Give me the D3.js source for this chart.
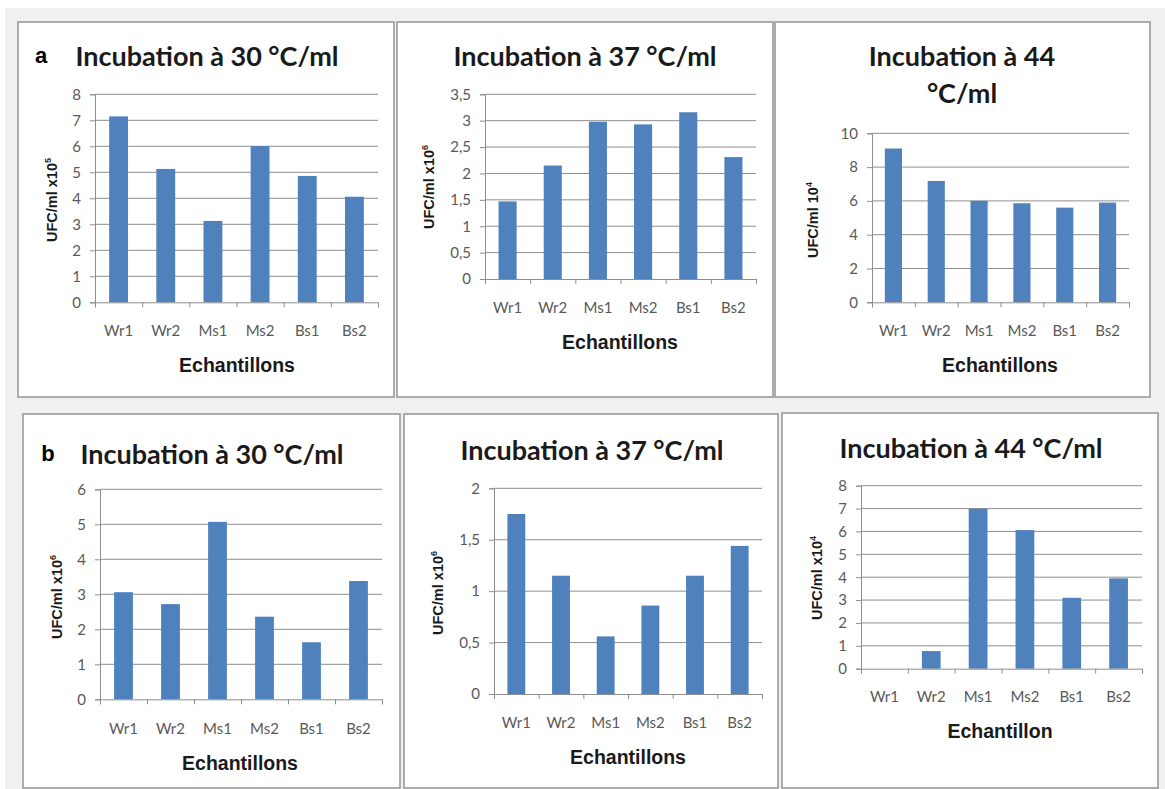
<!DOCTYPE html>
<html>
<head>
<meta charset="utf-8">
<script src="https://cdn.jsdelivr.net/npm/d3@7"></script>
<style>
  body { margin: 0; background: #fff; }
  svg { display: block; }
</style>
</head>
<body>
<div id="chart"></div>
<script>
// data
var categories = ["Wr1", "Wr2", "Ms1", "Ms2", "Bs1", "Bs2"];

var valuesA30 = [7.15, 5.13, 3.13, 6.01, 4.86, 4.06];
var valuesA37 = [1.47, 2.15, 2.98, 2.93, 3.16, 2.31];
var valuesA44 = [9.1, 7.18, 6.0, 5.86, 5.6, 5.9];
var valuesB30 = [3.06, 2.72, 5.07, 2.36, 1.63, 3.38];
var valuesB37 = [1.75, 1.15, 0.56, 0.86, 1.15, 1.44];
var valuesB44 = [0, 0.77, 6.99, 6.06, 3.1, 3.95];

var ticksA30 = [0, 1, 2, 3, 4, 5, 6, 7, 8];
var ticksA37 = [0, 0.5, 1, 1.5, 2, 2.5, 3, 3.5];
var ticksA44 = [0, 2, 4, 6, 8, 10];
var ticksB30 = [0, 1, 2, 3, 4, 5, 6];
var ticksB37 = [0, 0.5, 1, 1.5, 2];
var ticksB44 = [0, 1, 2, 3, 4, 5, 6, 7, 8];

var titles = [
    ["Incubation à 30 °C/ml"],
    ["Incubation à 37 °C/ml"],
    ["Incubation à 44", "°C/ml"],
    ["Incubation à 30 °C/ml"],
    ["Incubation à 37 °C/ml"],
    ["Incubation à 44 °C/ml"]
];
// y label: [main text, superscript]
var yLabels = [
    ["UFC/ml x10", "5"],
    ["UFC/ml x10", "6"],
    ["UFC/ml 10", "4"],
    ["UFC/ml x10", "6"],
    ["UFC/ml x10", "6"],
    ["UFC/ml x10", "4"]
];
var xTitles = ["Echantillons", "Echantillons", "Echantillons", "Echantillons", "Echantillons", "Echantillon"];
var panelLetters = ["a", "", "", "b", "", ""];

var svgWidth = 1165;
var svgHeight = 789;

// layout of each panel (box + plot area + text positions)
var panels = [
    {values: valuesA30, ticks: ticksA30, box: [18, 22, 394, 397], plot: [95, 378, 94.3, 302.3],
     titleX: 207, titleY: 55, letterX: 41, yLabX: 52, yLabY: 200, xLabY: 330, xTitleX: 237, xTitleY: 365},
    {values: valuesA37, ticks: ticksA37, box: [397, 22, 773, 397], plot: [485, 756, 94.3, 279],
     titleX: 585, titleY: 55, yLabX: 429, yLabY: 187, xLabY: 307, xTitleX: 620, xTitleY: 342},
    {values: valuesA44, ticks: ticksA44, box: [775, 22, 1150, 397], plot: [872, 1129, 133.3, 302.3],
     titleX: 962, titleY: 55, yLabX: 813, yLabY: 220, xLabY: 330, xTitleX: 1000, xTitleY: 365},
    {values: valuesB30, ticks: ticksB30, box: [23, 414, 400, 788], plot: [100, 382, 489.3, 699.3],
     titleX: 212, titleY: 453, letterX: 48, yLabX: 57, yLabY: 597, xLabY: 728, xTitleX: 240, xTitleY: 763},
    {values: valuesB37, ticks: ticksB37, box: [404, 414, 778, 788], plot: [494, 762, 488.3, 694],
     titleX: 592, titleY: 449, yLabX: 438, yLabY: 593, xLabY: 722, xTitleX: 628, xTitleY: 757},
    {values: valuesB44, ticks: ticksB44, box: [782, 413, 1158, 788], plot: [861, 1142, 485.7, 668.7],
     titleX: 971, titleY: 447, yLabX: 817, yLabY: 578, xLabY: 696, xTitleX: 1000, xTitleY: 731}
];

var barColor = "#4f81bd";
var gridColor = "#8e8e8e";
var tickTextColor = "#595959";

var svg = d3.select("#chart")
    .append("svg")
    .attr("width", svgWidth)
    .attr("height", svgHeight);

svg.append("rect")
    .attr("x", 5).attr("y", 8)
    .attr("width", svgWidth - 5).attr("height", svgHeight - 8)
    .attr("fill", "#f0f0f0");

var fmt = function(d) { return String(d).replace(".", ","); };

panels.forEach(function(p, i) {
    var g = svg.append("g");
    var b = p.box;

    g.append("rect")
        .attr("x", b[0]).attr("y", b[1])
        .attr("width", b[2] - b[0]).attr("height", b[3] - b[1])
        .attr("fill", "#fff")
        .attr("stroke", "#9a9a9a")
        .attr("stroke-width", 1.6);

    var x0 = p.plot[0], x1 = p.plot[1], yTop = p.plot[2], yBot = p.plot[3];

    var xBand = d3.scaleBand()
        .domain(categories)
        .range([x0, x1])
        .paddingInner(0.6)
        .paddingOuter(0.3);

    var xEdges = d3.scaleLinear().domain([0, categories.length]).range([x0, x1]);

    var y = d3.scaleLinear()
        .domain([0, d3.max(p.ticks)])
        .range([yBot, yTop]);

    // gridlines
    g.selectAll(".grid")
        .data(p.ticks.slice(1))
        .enter()
        .append("line")
        .attr("x1", x0).attr("x2", x1)
        .attr("y1", d => y(d)).attr("y2", d => y(d))
        .attr("stroke", gridColor)
        .attr("stroke-width", 1);

    // bars
    g.selectAll(".bar")
        .data(p.values)
        .enter()
        .append("rect")
        .attr("x", (d, j) => xBand(categories[j]))
        .attr("width", xBand.bandwidth())
        .attr("y", d => y(d))
        .attr("height", d => yBot - y(d))
        .attr("fill", barColor);

    // y axis
    var yAxis = g.append("g")
        .attr("transform", `translate(${x0},0)`)
        .call(d3.axisLeft(y).tickValues(p.ticks).tickSize(5).tickPadding(9).tickFormat(fmt));
    yAxis.select(".domain").attr("stroke", gridColor);
    yAxis.selectAll(".tick line").attr("stroke", gridColor);
    yAxis.selectAll(".tick text")
        .attr("fill", tickTextColor)
        .style("font-family", "Lato, 'Open Sans', sans-serif")
        .style("font-size", "15px");

    // x axis: category edge ticks
    var xAxis = g.append("g")
        .attr("transform", `translate(0,${yBot})`)
        .call(d3.axisBottom(xEdges).tickValues(d3.range(categories.length + 1)).tickSize(5).tickFormat(""));
    xAxis.select(".domain").attr("stroke", gridColor);
    xAxis.selectAll(".tick line").attr("stroke", gridColor);

    // x category labels
    g.selectAll(".xlab")
        .data(categories)
        .enter()
        .append("text")
        .attr("x", d => xBand(d) + xBand.bandwidth() / 2)
        .attr("y", p.xLabY)
        .attr("text-anchor", "middle")
        .attr("dominant-baseline", "central")
        .attr("fill", tickTextColor)
        .style("font-family", "Lato, 'Open Sans', sans-serif")
        .style("font-size", "15px")
        .text(d => d);

    // chart title
    var lines = titles[i];
    lines.forEach(function(t, k) {
        g.append("text")
            .attr("x", p.titleX)
            .attr("y", p.titleY + k * 37)
            .attr("text-anchor", "middle")
            .attr("dominant-baseline", "central")
            .attr("fill", "#1a1a1a")
            .style("font-family", "Lato, 'Open Sans', sans-serif")
            .style("font-weight", "700")
            .style("font-size", "27px")
            .text(t);
    });

    if (panelLetters[i]) {
        g.append("text")
            .attr("x", p.letterX)
            .attr("y", p.titleY)
            .attr("text-anchor", "middle")
            .attr("dominant-baseline", "central")
            .attr("fill", "#000")
            .style("font-family", "'Liberation Sans', Arial, sans-serif")
            .style("font-weight", "700")
            .style("font-size", "22px")
            .text(panelLetters[i]);
    }

    // y axis title
    var yl = g.append("text")
        .attr("transform", `translate(${p.yLabX},${p.yLabY}) rotate(-90)`)
        .attr("text-anchor", "middle")
        .attr("dominant-baseline", "central")
        .attr("fill", "#1a1a1a")
        .style("font-family", "'Liberation Sans', Arial, sans-serif")
        .style("font-weight", "700")
        .style("font-size", "14.5px");
    yl.append("tspan").text(yLabels[i][0]);
    yl.append("tspan")
        .attr("dy", "-0.45em")
        .style("font-size", "9px")
        .text(yLabels[i][1]);

    // x axis title
    g.append("text")
        .attr("x", p.xTitleX)
        .attr("y", p.xTitleY)
        .attr("text-anchor", "middle")
        .attr("dominant-baseline", "central")
        .attr("fill", "#1a1a1a")
        .style("font-family", "'Liberation Sans', Arial, sans-serif")
        .style("font-weight", "700")
        .style("font-size", "19.5px")
        .text(xTitles[i]);
});
</script>
</body>
</html>
